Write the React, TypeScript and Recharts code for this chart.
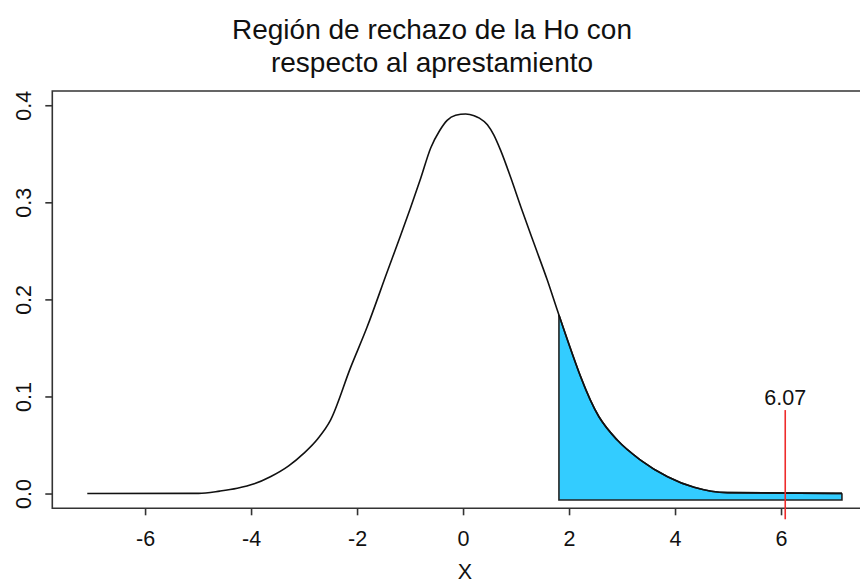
import {
  ComposedChart,
  Line,
  Area,
  XAxis,
  YAxis,
  ReferenceLine,
  ReferenceArea,
  ReferenceDot,
} from 'recharts';

// density curve
const curveX = [
  -7.1, -5.0, -4.6, -4.27, -3.95, -3.645, -3.3, -3.016, -2.75, -2.51, -2.134, -1.82,
  -1.44, -1.19, -1.0, -0.81, -0.62, -0.45, -0.31, -0.15, 0.04, 0.2, 0.3, 0.45, 0.57,
  0.7, 0.89, 1.08, 1.33, 1.58, 1.8, 2.555, 2.9, 3.34, 3.85, 4.35, 4.98, 7.14,
];
const curveY = [
  0.0006, 0.0007, 0.003, 0.0059, 0.0105, 0.0178, 0.029, 0.0419, 0.057, 0.0762, 0.13,
  0.172, 0.229, 0.266, 0.295, 0.325, 0.3565, 0.3745, 0.385, 0.3902, 0.3915, 0.3898,
  0.3872, 0.3805, 0.37, 0.354, 0.326, 0.296, 0.258, 0.2204, 0.1844, 0.0796, 0.0556,
  0.035, 0.0178, 0.0069, 0.0014, 0.0007,
];

// rejection region
const criticalX = 1.8;
const regionBase = -0.0062;
const tailEndX = 7.14;

// test statistic
const statValue = 6.07;
const statTop = 0.0865;
const statBottom = -0.026;

const xTicks = [-6, -4, -2, 0, 2, 4, 6];
const yTicks = [0, 0.1, 0.2, 0.3, 0.4];

const xDomain: [number, number] = [-7.76, 7.76];
const yDomain: [number, number] = [-0.0147, 0.4152];

const FONT = '"Liberation Sans", Arial, Helvetica, sans-serif';
const AXIS = '#333';

const curve = curveX.map((x, i) => ({ x, y: curveY[i] }));
const tail = curve.filter((p) => p.x >= criticalX);
const tailEdges = [
  { x: criticalX, y: curveY[curveX.indexOf(criticalX)] },
  { x: criticalX, y: regionBase },
  { x: tailEndX, y: regionBase },
  { x: tailEndX, y: curveY[curveY.length - 1] },
];

function XTick(props: any) {
  const { x, y, payload } = props;
  return (
    <text x={x} y={y + 28.5} textAnchor="middle" fontSize={21.5} fontFamily={FONT} fill="#111">
      {payload.value}
    </text>
  );
}

function YTick(props: any) {
  const { y, payload } = props;
  const bx = 31.5;
  return (
    <text
      x={bx}
      y={y}
      textAnchor="middle"
      fontSize={21.5}
      fontFamily={FONT}
      fill="#111"
      transform={`rotate(-90, ${bx}, ${y})`}
    >
      {Number(payload.value).toFixed(1)}
    </text>
  );
}

export default function App() {
  return (
    <div
      style={{
        position: 'fixed',
        left: 0,
        top: 0,
        width: 860,
        height: 583,
        overflow: 'hidden',
        background: '#fff',
        fontFamily: FONT,
      }}
    >
      <div
        style={{
          position: 'absolute',
          left: 182,
          width: 500,
          top: 13,
          textAlign: 'center',
          fontSize: 28,
          lineHeight: '33px',
          color: '#111',
          whiteSpace: 'nowrap',
        }}
      >
        Región de rechazo de la Ho con
        <br />
        respecto al aprestamiento
      </div>
      <ComposedChart
        width={900}
        height={583}
        margin={{ top: 91, right: 25.2, bottom: 0, left: 0 }}
      >
        <XAxis
          type="number"
          dataKey="x"
          domain={xDomain}
          ticks={xTicks}
          allowDataOverflow
          height={74.7}
          axisLine={false}
          tickSize={7}
          tickLine={{ stroke: AXIS, strokeWidth: 1.6 }}
          tick={<XTick />}
        />
        <YAxis
          type="number"
          dataKey="y"
          domain={yDomain}
          ticks={yTicks}
          allowDataOverflow
          width={52.3}
          axisLine={false}
          tickSize={7}
          tickLine={{ stroke: AXIS, strokeWidth: 1.6 }}
          tick={<YTick />}
        />
        <ReferenceArea
          x1={xDomain[0]}
          x2={xDomain[1]}
          y1={yDomain[0]}
          y2={yDomain[1]}
          fill="none"
          fillOpacity={0}
          stroke={AXIS}
          strokeWidth={1.6}
          ifOverflow="visible"
        />
        <Area
          data={tail}
          dataKey="y"
          type="monotoneX"
          baseValue={regionBase}
          fill="#33ccff"
          fillOpacity={1}
          stroke="#222"
          strokeWidth={1.6}
          isAnimationActive={false}
          dot={false}
          activeDot={false}
        />
        <Line
          data={tailEdges}
          dataKey="y"
          type="linear"
          stroke="#222"
          strokeWidth={1.6}
          dot={false}
          activeDot={false}
          isAnimationActive={false}
        />
        <Line
          data={curve}
          dataKey="y"
          type="monotoneX"
          stroke="#111"
          strokeWidth={1.6}
          dot={false}
          activeDot={false}
          isAnimationActive={false}
        />
        <ReferenceLine
          segment={[
            { x: statValue, y: statBottom },
            { x: statValue, y: statTop },
          ]}
          stroke="#ee2b2b"
          strokeWidth={1.6}
          ifOverflow="visible"
        />
        <ReferenceDot
          x={statValue}
          y={0.0994}
          r={0}
          fill="none"
          stroke="none"
          ifOverflow="visible"
          label={{ value: '6.07', position: 'center', fontSize: 21.5, fontFamily: FONT, fill: '#111' }}
        />
      </ComposedChart>
      <div
        style={{
          position: 'absolute',
          left: 415,
          width: 100,
          top: 562,
          textAlign: 'center',
          fontSize: 21.5,
          lineHeight: '20px',
          color: '#111',
        }}
      >
        X
      </div>
    </div>
  );
}
